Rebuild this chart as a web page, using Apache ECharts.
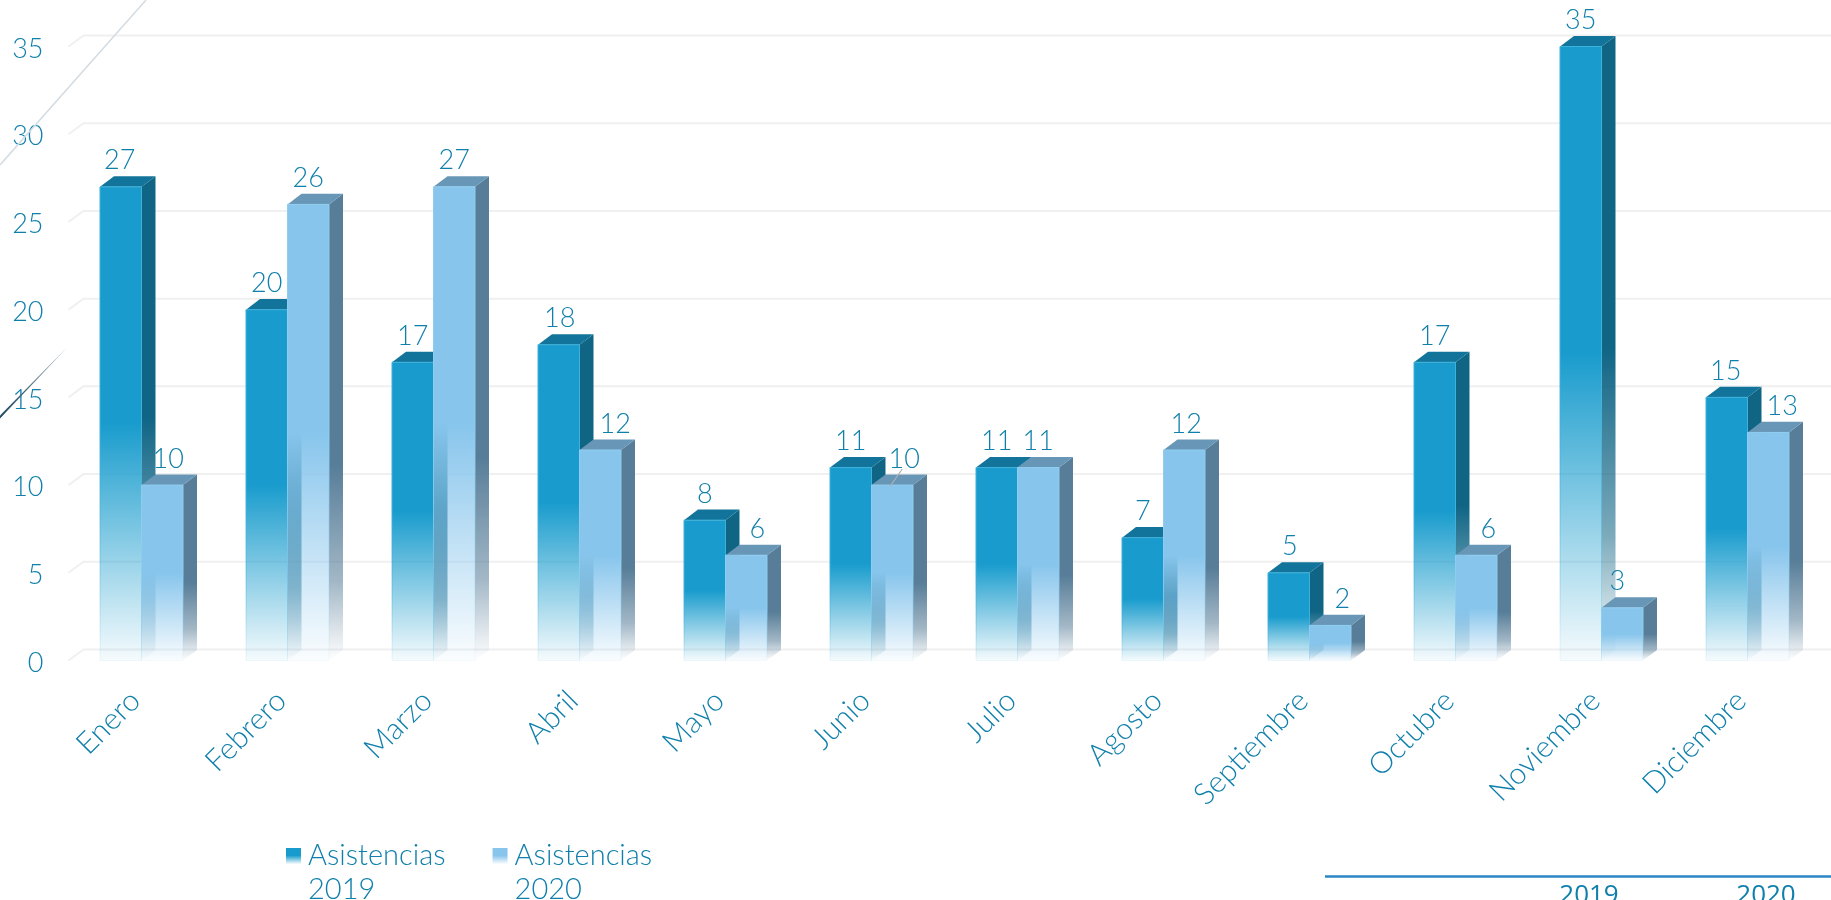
<!DOCTYPE html>
<html><head><meta charset="utf-8">
<style>html,body{margin:0;padding:0;background:#fff;overflow:hidden}#c{width:1831px;height:900px}</style>
<script src="https://cdn.jsdelivr.net/npm/echarts@6/dist/echarts.min.js"></script>
</head><body><div id="c"></div>
<script>
const months = ['Enero','Febrero','Marzo','Abril','Mayo','Junio','Julio','Agosto','Septiembre','Octubre','Noviembre','Diciembre'];
const asist2019 = [27,20,17,18,8,11,11,7,5,17,35,15];
const asist2020 = [10,26,27,12,6,10,11,12,2,6,3,13];
const yTicks = [0,5,10,15,20,25,30,35];
const labelNudge2019 = [-1,0,0,1,0,0,0,0,1,0,0,-1];
const labelNudge2020 = [6,0,0,15,11,12,0,2,12,12,-5,14];
const leaderMonth = 'Junio';
const FONT = 'Lato';
const TXT = '#0f7fab';
const DEPTH_X = 14, DEPTH_Y = 10.6, BAR_RATIO = 0.2842;

function rgba(hex,a){const n=parseInt(hex.slice(1),16);return `rgba(${n>>16},${(n>>8)&255},${n&255},${a})`;}
function fade(hex,start,endA){
  return new echarts.graphic.LinearGradient(0,0,0,1,[
    {offset:0,color:rgba(hex,1)},{offset:start,color:rgba(hex,1)},{offset:1,color:rgba(hex,endA)}]);
}
function sideFade(hex,start){
  const span=1-start;
  return new echarts.graphic.LinearGradient(0,0,0,1,[
    {offset:0,color:rgba(hex,1)},{offset:start,color:rgba(hex,1)},
    {offset:start+span*0.6,color:rgba(hex,0.55)},{offset:start+span*0.85,color:rgba(hex,0.2)},{offset:1,color:rgba(hex,0)}]);
}
function barSeries(name,values,offsetSign,nudges,c){
  return {
    type:'custom',name,z:offsetSign<0?2:3,clip:false,
    data:values.map((v,i)=>[i,v]),
    encode:{x:0,y:1},
    renderItem(params,api){
      const i=api.value(0),v=api.value(1);
      const top=api.coord([i,v]),base=api.coord([i,0]);
      const w=api.size([1,0])[0]*BAR_RATIO;
      const x0=offsetSign<0?top[0]-w:top[0], x1=x0+w, y=top[1], b=base[1];
      const dx=DEPTH_X,dy=DEPTH_Y, cx=(x0+x1)/2, backTop=y-dy;
      const children=[
        {type:'polygon',shape:{points:[[x1,y],[x1+dx,y-dy],[x1+dx,b-dy],[x1,b]]},
         style:{fill:sideFade(c.side,c.sideStart)}},
        {type:'polygon',shape:{points:[[x0,y],[x0+dx,y-dy],[x1+dx,y-dy],[x1,y]]},
         style:{fill:c.top}},
        {type:'polygon',shape:{points:[[x0,y],[x1,y],[x1,b],[x0,b]]},
         style:{fill:fade(c.front,0.5,0.04),stroke:fade(c.edge,0.5,0.08),lineWidth:1}},
        {type:'text',z2:20,style:{x:cx+nudges[i],y:backTop-15.5,text:String(v),fill:TXT,
         font:`300 27px ${FONT}`,align:'center',verticalAlign:'middle'}}
      ];
      if(offsetSign>0 && months[i]===leaderMonth){
        children.push({type:'line',shape:{x1:cx+10,y1:backTop-5.5,x2:cx-2,y2:y+1},style:{stroke:'#a9b0b4',lineWidth:1.2}});
      }
      return {type:'group',children};
    }
  };
}
const dark={front:'#199ccd',side:'#106585',top:'#12749a',edge:'#3fb0da',sideStart:0.5};
const light={front:'#87c5ec',side:'#577d98',top:'#6896b6',edge:'#8fcdf0',sideStart:0.58};
const ICON='path://M0,0H15V16H0Z M0,50H17';
const chart=echarts.init(document.getElementById('c'),null,{renderer:'canvas'});
chart.setOption({
  animation:false,backgroundColor:'#fff',
  grid:{left:68.5,right:10.5,top:46.5,bottom:239.5,containLabel:false},
  legend:{
    left:286,top:839,padding:0,orient:'horizontal',itemWidth:17,itemHeight:50,itemGap:47,
    selectedMode:false,icon:ICON,
    formatter:n=>n.replace(' ','\n'),
    textStyle:{color:TXT,fontFamily:FONT,fontWeight:300,fontSize:29,lineHeight:34},
    data:[
      {name:'Asistencias 2019',itemStyle:{borderWidth:0,color:new echarts.graphic.LinearGradient(0,0,0,1,[{offset:0,color:'#199ccd'},{offset:.15,color:'#199ccd'},{offset:.32,color:'rgba(25,156,205,0.03)'},{offset:1,color:'rgba(25,156,205,0)'}])}},
      {name:'Asistencias 2020',itemStyle:{borderWidth:0,color:new echarts.graphic.LinearGradient(0,0,0,1,[{offset:0,color:'#87c5ec'},{offset:.15,color:'#87c5ec'},{offset:.32,color:'rgba(135,197,236,0.03)'},{offset:1,color:'rgba(135,197,236,0)'}])}}
    ]
  },
  xAxis:{type:'category',data:months,axisLine:{show:false},axisTick:{show:false},splitLine:{show:false},
    axisLabel:{interval:0,rotate:45,margin:29,padding:[0,9,0,0],color:TXT,fontFamily:FONT,fontWeight:300,fontSize:30}},
  yAxis:{type:'value',min:0,max:35,interval:5,axisLine:{show:false},axisTick:{show:false},splitLine:{show:false},
    axisLabel:{margin:25,verticalAlign:'top',lineHeight:5,color:TXT,fontFamily:FONT,fontWeight:300,fontSize:27}},
  series:[
    {type:'custom',name:'rejilla',z:1,silent:true,clip:false,data:yTicks.map(v=>[0,v]),encode:{x:0,y:1},
     renderItem(params,api){
       const p=api.coord([0,api.value(1)]),s=api.size([1,0])[0];
       const x=p[0]-s/2,y=p[1],end=params.coordSys.x+params.coordSys.width+20;
       return {type:'polyline',shape:{points:[[x,y],[x+15,y-11],[end,y-11]]},style:{stroke:'#f0f0f1',lineWidth:2,fill:null}};
     }},
    barSeries('Asistencias 2019',asist2019,-1,labelNudge2019,dark),
    barSeries('Asistencias 2020',asist2020,1,labelNudge2020,light)
  ],
  graphic:[
    {type:'line',z:100,silent:true,shape:{x1:146,y1:0,x2:0,y2:165},style:{stroke:'#d3dce2',lineWidth:1.5}},
    {type:'polygon',z:100,silent:true,shape:{points:[[68,346.5],[0,415.5],[0,418.5]]},
      style:{fill:new echarts.graphic.LinearGradient(1,0,0,1,[{offset:0,color:'#8aa2b0'},{offset:1,color:'#1e4660'}])}},
    {type:'line',z:100,silent:true,shape:{x1:1325,y1:876.5,x2:1831,y2:876.5},style:{stroke:'#2d86c6',lineWidth:2.5}},
    {type:'text',z:100,silent:true,style:{x:1589,y:883,text:'2019',fill:TXT,font:'500 26px "Open Sans"',align:'center',verticalAlign:'top'}},
    {type:'text',z:100,silent:true,style:{x:1766,y:883,text:'2020',fill:TXT,font:'500 26px "Open Sans"',align:'center',verticalAlign:'top'}}
  ]
});
</script></body></html>
